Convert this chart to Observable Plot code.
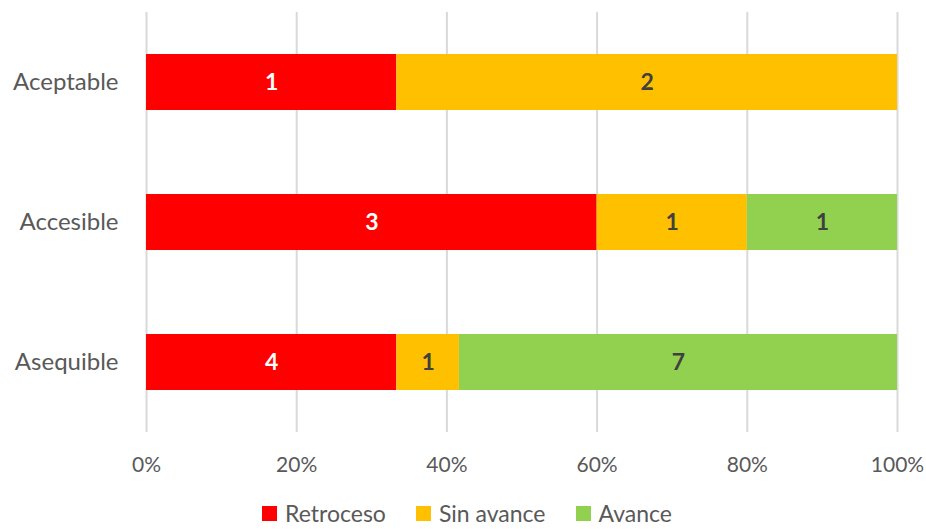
<!DOCTYPE html>
<html>
<head>
<meta charset="utf-8">
<script src="https://cdn.jsdelivr.net/npm/d3@7"></script>
<script src="https://cdn.jsdelivr.net/npm/@observablehq/plot@0.6"></script>
<style>
  html, body { margin: 0; padding: 0; background: #fff; width: 926px; height: 529px; overflow: hidden; }
  #chart svg { display: block; }
  .legend { display: flex; justify-content: center; gap: 30px; font-family: Lato, "Open Sans", sans-serif; font-size: 23px; color: #595959; margin-top: 2px; line-height: 26px; padding-left: 8px; }
  .legend span.item { display: flex; align-items: center; }
  .legend span.sw { display: inline-block; width: 15px; height: 15px; margin-right: 8px; }
</style>
</head>
<body>
<div id="chart"></div>
<script>
const categories = ["Aceptable", "Accesible", "Asequible"];
const series = ["Retroceso", "Sin avance", "Avance"];
const colors = ["#FF0000", "#FFC000", "#92D050"];
const retroceso = [1, 3, 4];
const sinAvance = [2, 1, 1];
const avance = [0, 1, 7];
const xTicks = [0, 0.2, 0.4, 0.6, 0.8, 1];

const values = [retroceso, sinAvance, avance];
const data = [];
categories.forEach((c, i) => {
  series.forEach((s, j) => {
    data.push({category: c, series: s, value: values[j][i]});
  });
});

const font = 'Lato, "Open Sans", sans-serif';

const chart = Plot.plot({
  width: 926,
  height: 498,
  marginLeft: 146,
  marginRight: 29,
  marginTop: 12,
  marginBottom: 66,
  style: {fontFamily: font, background: "#fff"},
  x: {domain: [0, 1]},
  y: {domain: categories, paddingInner: 0.6, paddingOuter: 0.3},
  color: {domain: series, range: colors},
  marks: [
    Plot.gridX(xTicks, {stroke: "#d9d9d9", strokeOpacity: 1, strokeWidth: 2}),
    Plot.axisX(xTicks, {tickSize: 0, tickPadding: 25, tickFormat: d3.format(".0%"), fontSize: 21, fill: "#595959", label: null}),
    Plot.axisY({tickSize: 0, tickPadding: 28, fontSize: 24, fill: "#595959", label: null}),
    Plot.barX(data, Plot.stackX({x: "value", y: "category", fill: "series", offset: "normalize", order: series})),
    Plot.text(data, Plot.stackX({
      x: "value", y: "category", offset: "normalize", order: series, z: "series",
      text: d => d.value > 0 ? String(d.value) : "",
      fill: d => d.series === "Retroceso" ? "#ffffff" : "#404040",
      fontSize: 23, fontWeight: "bold"
    }))
  ]
});

document.getElementById("chart").appendChild(chart);

const legend = document.createElement("div");
legend.className = "legend";
series.forEach((s, i) => {
  const item = document.createElement("span");
  item.className = "item";
  const sw = document.createElement("span");
  sw.className = "sw";
  sw.style.background = colors[i];
  item.appendChild(sw);
  item.appendChild(document.createTextNode(s));
  legend.appendChild(item);
});
document.body.appendChild(legend);
</script>
</body>
</html>
